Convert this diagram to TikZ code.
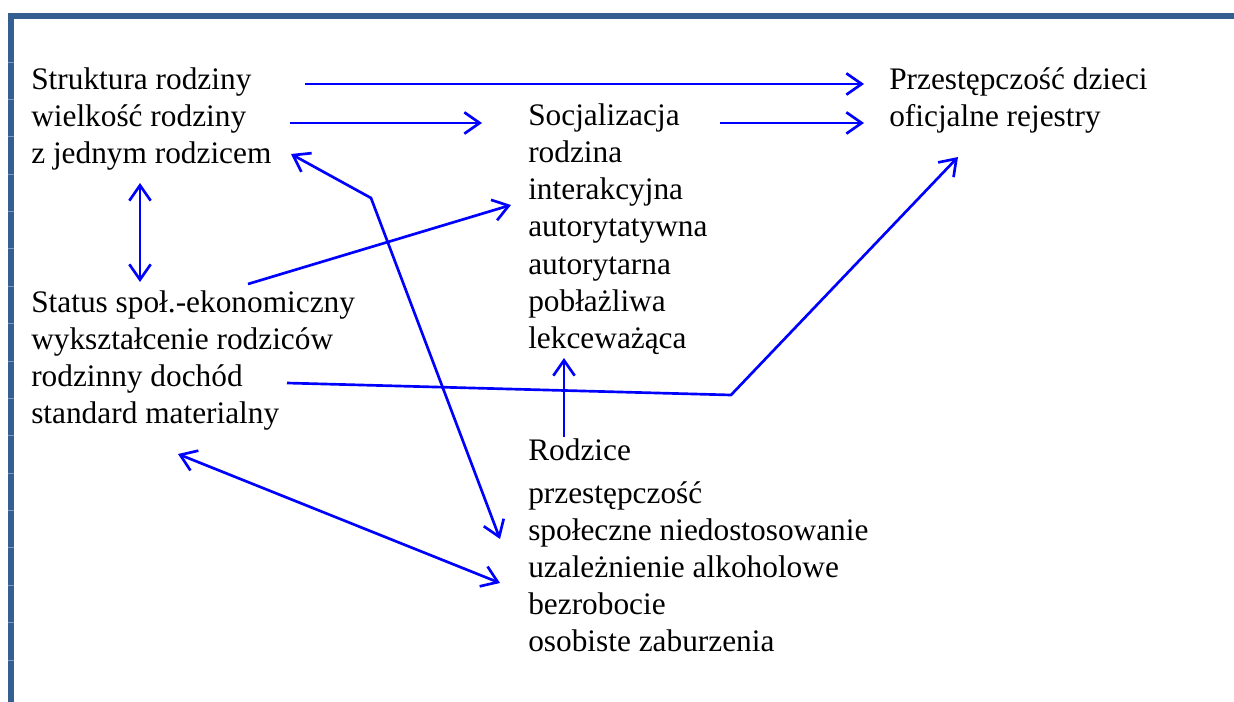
\documentclass[tikz,border=0pt]{standalone}
\usepackage{fontspec}
\setmainfont{Liberation Serif}
\usetikzlibrary{arrows.meta}
\definecolor{barblue}{HTML}{365F91}
\definecolor{ticklight}{HTML}{7A98C0}
\definecolor{arrblue}{HTML}{0000FF}
\tikzset{
  lbl/.style={anchor=base west, inner sep=0pt, font=\fontsize{23.5}{28}\selectfont, text=black},
  conn/.style={draw=arrblue, line width=2pt, line join=round, -{Straight Barb[length=11.5pt,width=16pt]}},
  dconn/.style={draw=arrblue, line width=2pt, line join=round, {Straight Barb[length=11.5pt,width=16pt]}-{Straight Barb[length=11.5pt,width=16pt]}}
}
\begin{document}
\begin{tikzpicture}[x=0.75pt,y=-0.75pt]
\useasboundingbox (0,0) rectangle (1234,702);
% frame
\fill[barblue] (8,13) rectangle (1234,19);
\fill[barblue] (8,13) rectangle (14,702);
\foreach \k in {0,...,16}{\draw[ticklight,line width=0.6pt] (8,{62+37.375*\k}) -- (14,{62+37.375*\k});}
% left blocks
\node[lbl] (s1) at (31,90) {Struktura rodziny};
\node[lbl] (s2) at (31,127) {wielkość rodziny};
\node[lbl] (s3) at (31,164) {z jednym rodzicem};
\node[lbl] (e1) at (31,312) {Status społ.-ekonomiczny};
\node[lbl] (e2) at (31,349) {wykształcenie rodziców};
\node[lbl] (e3) at (31,386) {rodzinny dochód};
\node[lbl] (e4) at (31,423) {standard materialny};
% middle
\node[lbl] (c1) at (528,126) {Socjalizacja};
\node[lbl] (c2) at (528,163) {rodzina};
\node[lbl] (c3) at (528,200) {interakcyjna};
\node[lbl] (c4) at (528,237) {autorytatywna};
\node[lbl] (c5) at (528,274) {autorytarna};
\node[lbl] (c6) at (528,311) {pobłażliwa};
\node[lbl] (c7) at (528,348) {lekceważąca};
% right
\node[lbl] (d1) at (889,90) {Przestępczość dzieci};
\node[lbl] (d2) at (889,127) {oficjalne rejestry};
% parents
\node[lbl] (r1) at (528,460) {Rodzice};
\node[lbl] (r2) at (528,503) {przestępczość};
\node[lbl] (r3) at (528,540) {społeczne niedostosowanie};
\node[lbl] (r4) at (528,577) {uzależnienie alkoholowe};
\node[lbl] (r5) at (528,614) {bezrobocie};
\node[lbl] (r6) at (528,651) {osobiste zaburzenia};
% connector points
\coordinate (a1s) at (305,84);  \coordinate (a1e) at (864,84);
\coordinate (a2s) at (290,123); \coordinate (a2e) at (482,123);
\coordinate (a3s) at (720,123); \coordinate (a3e) at (864,123);
\coordinate (a4a) at (291,154); \coordinate (a4m) at (371,198); \coordinate (a4b) at (500,539);
\coordinate (a5a) at (140,183); \coordinate (a5b) at (140,282);
\coordinate (a6s) at (248,284); \coordinate (a6e) at (511,205);
\coordinate (a7s) at (287,383); \coordinate (a7m) at (731,395); \coordinate (a7e) at (958,157);
\coordinate (a8s) at (564,437); \coordinate (a8e) at (564,358);
\coordinate (a9a) at (178,454); \coordinate (a9b) at (500,583);
% connectors
\draw[conn] (a1s) -- (a1e);
\draw[conn] (a2s) -- (a2e);
\draw[conn] (a3s) -- (a3e);
\draw[dconn] (a4a) -- (a4m) -- (a4b);
\draw[dconn] (a5a) -- (a5b);
\draw[conn] (a6s) -- (a6e);
\draw[conn] (a7s) -- (a7m) -- (a7e);
\draw[conn] (a8s) -- (a8e);
\draw[dconn] (a9a) -- (a9b);
\end{tikzpicture}
\end{document}
